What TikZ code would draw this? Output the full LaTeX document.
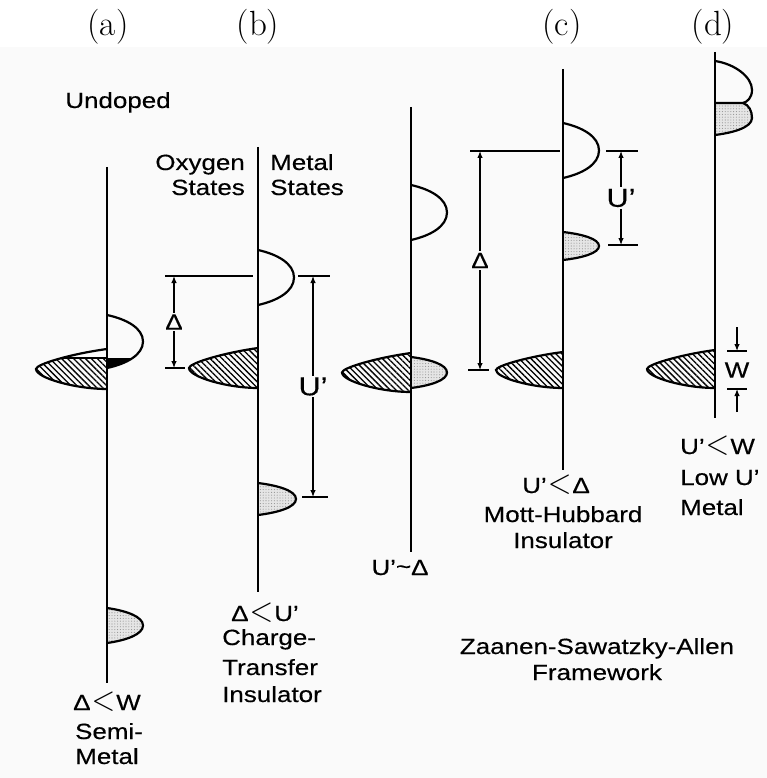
\documentclass[tikz,border=0pt]{standalone}
\usepackage{fontspec}
\newfontfamily\lblfont{Liberation Sans}[FakeStretch=1.18,FakeBold=0.35]
\usetikzlibrary{arrows.meta,patterns.meta}
\definecolor{bg}{RGB}{250,250,250}
\newcommand\lessglyph{\kern1pt\raisebox{-0.5pt}{\scalebox{1.5}[1.7]{$<$}}\kern1pt}
\begin{document}
\begin{tikzpicture}[x=1pt,y=-1pt,
  lbl/.style={font=\lblfont\fontsize{22}{28}\selectfont, inner sep=0pt},
  biglbl/.style={font=\lblfont\fontsize{26}{30}\selectfont, inner sep=1.5pt, fill=bg},
  dimlbl/.style={font=\lblfont\fontsize{22}{28}\selectfont, inner sep=1.5pt, fill=bg},
  panel/.style={font=\fontsize{35}{40}\selectfont, inner sep=0pt},
  axis/.style={line width=1.8pt},
  band/.style={line width=2.2pt},
  dim/.style={line width=1.2pt},
  dimarrow/.style={dim, {Latex[length=7pt,width=5.5pt]}-{Latex[length=7pt,width=5.5pt]}},
  onearrow/.style={dim, -{Latex[length=7pt,width=5.5pt]}},
  hatch/.style={pattern={Lines[angle=-45,distance=4.2pt,line width=1.3pt]}},
  dotfill/.style={fill=gray!20, postaction={pattern={Dots[distance=2.8pt,radius=0.55pt]}, pattern color=gray!85}},
  rlobe/.style n args={4}{insert path={(#1,#2) .. controls ({#1+0.55*#4},{#2+0.08*(#3-#2)}) and ({#1+#4},{#2+0.25*(#3-#2)}) .. ({#1+#4},{(#2+#3)/2}) .. controls ({#1+#4},{#3-0.25*(#3-#2)}) and ({#1+0.55*#4},{#3-0.08*(#3-#2)}) .. (#1,#3)}},
  llobe/.style n args={4}{insert path={(#1,#2) .. controls ({#1-0.5*#4},{#2+0.12*(#3-#2)}) and ({#1-#4},{#2+0.38*(#3-#2)}) .. ({#1-#4},{(#2+#3)/2}) .. controls ({#1-#4},{#2+0.72*(#3-#2)}) and ({#1-0.45*#4},{#3}) .. (#1,#3)}}
]
\useasboundingbox (0,0) rectangle (767,778);
\fill[bg] (0,47) rectangle (767,778);

% panel letters
\node[panel, anchor=base] (pa) at (108,36) {(a)};
\node[panel, anchor=base] (pb) at (258,36) {(b)};
\node[panel, anchor=base] (pc) at (562,36) {(c)};
\node[panel, anchor=base] (pd) at (713,36) {(d)};

\node[lbl, anchor=base] (undoped) at (118,108) {Undoped};

% ---------- panel (a) ----------
\begin{scope}
  \path[clip, llobe={107}{349}{389}{71}];
  \fill[hatch] (30,358) rectangle (107,395);
  \draw[line width=2.6pt] (30,358) -- (107,358);
\end{scope}
\draw[band, llobe={107}{349}{389}{71}];
\begin{scope}
  \path[clip, rlobe={107}{315}{368}{36}];
  \fill[black] (107,358) rectangle (150,372);
\end{scope}
\draw[band, rlobe={107}{315}{368}{36}];
\path[dotfill, rlobe={107}{608}{643}{36}] -- cycle;
\draw[band, rlobe={107}{608}{643}{36}];
\coordinate (aT) at (107,167);
\coordinate (aB) at (107,683);
\draw[axis] (aT) -- (aB);
\node[lbl, anchor=base] (aL1) at (107,710) {Δ\lessglyph W};
\node[lbl, anchor=base] (aL2) at (109,739) {Semi-};
\node[lbl, anchor=base] (aL3) at (107,764) {Metal};

% ---------- panel (b) ----------
\fill[hatch, llobe={258}{348}{388}{69}] -- cycle;
\draw[band, llobe={258}{348}{388}{69}];
\draw[band, rlobe={258}{250}{305}{36}];
\path[dotfill, rlobe={258}{483}{515}{38}] -- cycle;
\draw[band, rlobe={258}{483}{515}{38}];
\coordinate (bT) at (258,147);
\coordinate (bB) at (258,592);
\draw[axis] (bT) -- (bB);
\node[lbl, anchor=base east] (bO1) at (245,170) {Oxygen};
\node[lbl, anchor=base east] (bO2) at (245,195) {States};
\node[lbl, anchor=base west] (bM1) at (270,170) {Metal};
\node[lbl, anchor=base west] (bM2) at (270,195) {States};
% levels
\coordinate (bDl) at (165,276); \coordinate (bDr) at (253,276);
\coordinate (bOl) at (165,368); \coordinate (bOr) at (185,368);
\coordinate (bUl) at (298,276); \coordinate (bUr) at (330,276);
\coordinate (bLl) at (302,497); \coordinate (bLr) at (328,497);
\draw[dim] (bDl) -- (bDr);
\draw[dim] (bOl) -- (bOr);
\draw[dim] (bUl) -- (bUr);
\draw[dim] (bLl) -- (bLr);
\coordinate (bDa) at (174,276); \coordinate (bDb) at (174,368);
\coordinate (bUa) at (313,276); \coordinate (bUb) at (313,497);
\draw[dimarrow] (bDa) -- node[dimlbl] (bDlab) {Δ} (bDb);
\draw[dimarrow] (bUa) -- node[biglbl] (bUlab) {U’} (bUb);
\node[lbl, anchor=base] (bL1) at (265,621) {Δ\lessglyph U’};
\node[lbl, anchor=base west] (bL2) at (222,645) {Charge-};
\node[lbl, anchor=base west] (bL3) at (222,675) {Transfer};
\node[lbl, anchor=base west] (bL4) at (222,702) {Insulator};

% ---------- middle panel ----------
\fill[hatch, llobe={411}{353}{392}{69}] -- cycle;
\draw[band, llobe={411}{353}{392}{69}];
\path[dotfill, rlobe={411}{357}{388}{36}] -- cycle;
\draw[band, rlobe={411}{357}{388}{36}];
\draw[band, rlobe={411}{185}{240}{36}];
\coordinate (mT) at (411,107);
\coordinate (mB) at (411,552);
\draw[axis] (mT) -- (mB);
\node[lbl, anchor=base] (mL) at (400,575) {U’\raisebox{1pt}{\char"007E}Δ};

% ---------- panel (c) ----------
\fill[hatch, llobe={563}{352}{388}{67}] -- cycle;
\draw[band, llobe={563}{352}{388}{67}];
\draw[band, rlobe={563}{123}{178}{36}];
\path[dotfill, rlobe={563}{232}{260}{36}] -- cycle;
\draw[band, rlobe={563}{232}{260}{36}];
\coordinate (cT) at (563,69);
\coordinate (cB) at (563,470);
\draw[axis] (cT) -- (cB);
\coordinate (cDl) at (470,151); \coordinate (cDr) at (560,151);
\coordinate (cOl) at (468,370); \coordinate (cOr) at (489,370);
\coordinate (cUl) at (606,151); \coordinate (cUr) at (638,151);
\coordinate (cLl) at (608,245); \coordinate (cLr) at (638,245);
\draw[dim] (cDl) -- (cDr);
\draw[dim] (cOl) -- (cOr);
\draw[dim] (cUl) -- (cUr);
\draw[dim] (cLl) -- (cLr);
\coordinate (cDa) at (480,151); \coordinate (cDb) at (480,370);
\coordinate (cUa) at (621,151); \coordinate (cUb) at (621,245);
\draw[dimarrow] (cDa) -- node[dimlbl] (cDlab) {Δ} (cDb);
\draw[dimarrow] (cUa) -- node[biglbl] (cUlab) {U’} (cUb);
\node[lbl, anchor=base] (cL1) at (556,493) {U’\lessglyph Δ};
\node[lbl, anchor=base] (cL2) at (563,522) {Mott-Hubbard};
\node[lbl, anchor=base] (cL3) at (563,548) {Insulator};

% ---------- panel (d) ----------
\fill[hatch, llobe={715}{350}{388}{68}] -- cycle;
\draw[band, llobe={715}{350}{388}{68}];
\path[dotfill] (715,103) -- (743,103) .. controls (749,105) and (752,111) .. (752,118) .. controls (752,128) and (731,133) .. (715,135) -- cycle;
\draw[band] (715,103) -- (743,103) .. controls (749,105) and (752,111) .. (752,118) .. controls (752,128) and (731,133) .. (715,135);
\draw[band] (715,61) .. controls (735,64) and (752,77) .. (752,90) .. controls (752,98) and (747,102) .. (743,103);
\coordinate (dT) at (715,52);
\coordinate (dB) at (715,418);
\draw[axis] (dT) -- (dB);
\coordinate (dWl1) at (727,351); \coordinate (dWr1) at (747,351);
\coordinate (dWl2) at (727,389); \coordinate (dWr2) at (747,389);
\draw[dim] (dWl1) -- (dWr1);
\draw[dim] (dWl2) -- (dWr2);
\coordinate (dWa0) at (737,327); \coordinate (dWa1) at (737,351);
\coordinate (dWb0) at (737,412); \coordinate (dWb1) at (737,389);
\draw[onearrow] (dWa0) -- (dWa1);
\draw[onearrow] (dWb0) -- (dWb1);
\node[dimlbl, fill=none] (dWlab) at (737,370) {W};
\node[lbl, anchor=base west] (dL1) at (680,454) {U’\lessglyph W};
\node[lbl, anchor=base west] (dL2) at (680,485) {Low U’};
\node[lbl, anchor=base west] (dL3) at (680,515) {Metal};

% ---------- caption ----------
\node[lbl, anchor=base] (z1) at (597,654) {Zaanen-Sawatzky-Allen};
\node[lbl, anchor=base] (z2) at (597,680) {Framework};
\end{tikzpicture}
\end{document}
